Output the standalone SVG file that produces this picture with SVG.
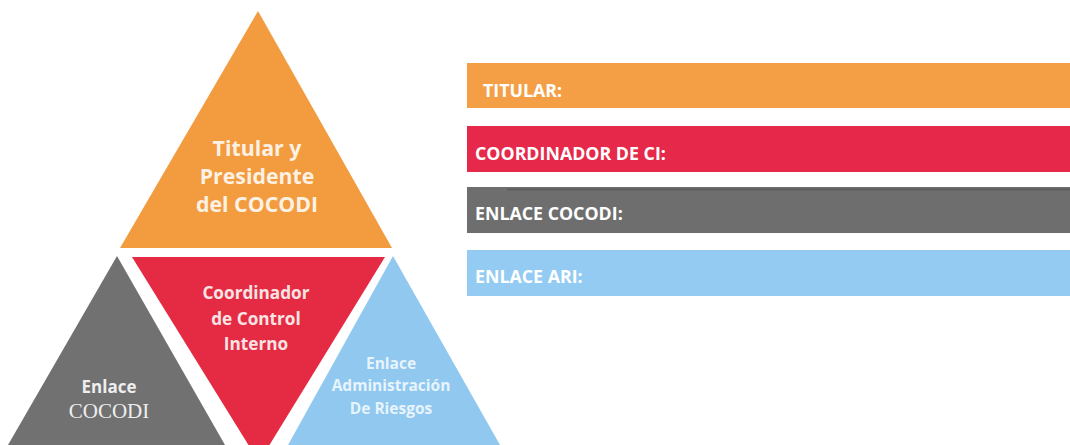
<svg xmlns="http://www.w3.org/2000/svg" width="1070" height="445" viewBox="0 0 1070 445">
<style>
.t{font-family:"Open Sans","Liberation Sans",sans-serif;font-weight:bold;text-anchor:middle}
.bar{font-family:"Open Sans","Liberation Sans",sans-serif;font-weight:bold;font-size:17.8px;fill:#ffffff}
</style>
<rect width="1070" height="445" fill="#ffffff"/>
<g id="node-titular">
<polygon points="258,11 392,248 120,248" fill="#F29B3F"/>
<text class="t" font-size="21.3" fill="#FDF1E4"><tspan x="257" y="156">Titular y</tspan><tspan x="257" y="184">Presidente</tspan><tspan x="257" y="212">del COCODI</tspan></text>
</g>
<g id="node-coordinador">
<polygon points="132,257 385,257 259,462" fill="#E42B43"/>
<text class="t" font-size="17.2" font-weight="600" fill="#F9E3E3"><tspan x="256" y="299">Coordinador</tspan><tspan x="256" y="325">de Control</tspan><tspan x="256" y="350">Interno</tspan></text>
</g>
<g id="node-enlace-cocodi">
<polygon points="117,256 225,445 8,445" fill="#717171"/>
<text class="t" font-size="17" fill="#EEEEEE" x="109" y="393">Enlace</text>
<text font-family="'Liberation Serif',serif" font-size="21" fill="#EEEEEE" text-anchor="middle" x="109" y="418">COCODI</text>
</g>
<g id="node-enlace-ari">
<polygon points="393,256 500,445 288,445" fill="#90C8F0"/>
<text class="t" font-size="15.5" fill="#E8F4FC"><tspan x="391" y="369">Enlace</tspan><tspan x="391" y="391">Administración</tspan><tspan x="391" y="414">De Riesgos</tspan></text>
</g>
<g id="bar-titular">
<rect x="467" y="63" width="603" height="45" fill="#F49F45"/>
<text class="bar" x="483" y="97">TITULAR:</text>
</g>
<g id="bar-coordinador">
<rect x="467" y="126" width="603" height="46" fill="#E6284A"/>
<text class="bar" x="475" y="160">COORDINADOR DE CI:</text>
</g>
<g id="bar-enlace-cocodi">
<rect x="467" y="187" width="603" height="46" fill="#6E6E6E"/>
<line x1="507" y1="189.5" x2="1070" y2="189.5" stroke="#5E5E5E" stroke-width="2"/>
<text class="bar" x="475" y="220">ENLACE COCODI:</text>
</g>
<g id="bar-enlace-ari">
<rect x="467" y="250" width="603" height="46" fill="#93CBF3"/>
<text class="bar" x="475" y="283">ENLACE ARI:</text>
</g>
</svg>
